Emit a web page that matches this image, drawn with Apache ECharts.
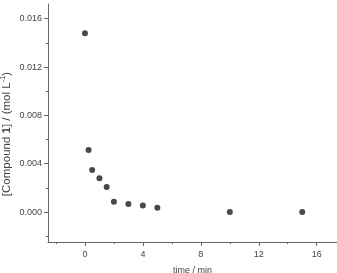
<!DOCTYPE html>
<html>
<head>
<meta charset="utf-8">
<script src="https://cdn.jsdelivr.net/npm/echarts@6/dist/echarts.min.js"></script>
<style>
    html, body { margin: 0; padding: 0; background: #fff; }
    #chart { width: 337px; height: 273px; }
</style>
</head>
<body>
<div id="chart"></div>
<script>
    // 数据
    var timeMin = [0, 0.25, 0.5, 1, 1.5, 2, 3, 4, 5, 10, 15];
    var conc = [0.0148, 0.00513, 0.00348, 0.00279, 0.00207, 0.00085, 0.00066, 0.00055, 0.00036, 0.0, 0.0];
    var xMajor = [0, 4, 8, 12, 16];
    var xMinor = [-2, 2, 6, 10, 14];
    var yMajor = [0, 0.004, 0.008, 0.012, 0.016];
    var yMinor = [-0.002, 0.002, 0.006, 0.010, 0.014];

    var points = timeMin.map(function (t, i) { return [t, conc[i]]; });

    var axisColor = '#666';
    var textColor = '#444';
    var font = 'Liberation Sans, Arial, sans-serif';

    var myChart = echarts.init(document.getElementById('chart'));
    var option = {
        animation: false,
        grid: {
            left: 48,
            top: 4,
            right: 0,
            bottom: 31,
            containLabel: false,
            outerBoundsMode: 'none'
        },
        xAxis: [{
            type: 'value',
            min: -2.55,
            max: 17.4,
            name: 'time / min',
            nameLocation: 'middle',
            nameGap: 24,
            nameMoveOverlap: false,
            nameTextStyle: { color: textColor, fontSize: 9, fontFamily: font, verticalAlign: 'top' },
            axisLine: { show: true, onZero: false, lineStyle: { color: axisColor, width: 1 } },
            axisTick: { show: true, customValues: xMajor, length: 4, lineStyle: { color: axisColor } },
            axisLabel: {
                customValues: xMajor,
                color: textColor, fontSize: 9, fontFamily: font, margin: 8
            },
            splitLine: { show: false }
        }, {
            type: 'value',
            position: 'bottom',
            min: -2.55,
            max: 17.4,
            axisLine: { show: false, onZero: false },
            axisTick: { show: true, customValues: xMinor, length: 2, lineStyle: { color: axisColor } },
            axisLabel: { show: false },
            splitLine: { show: false }
        }],
        yAxis: [{
            type: 'value',
            min: -0.00248,
            max: 0.01722,
            name: '[Compound {b|1}] / (mol L{sup|-1})',
            nameLocation: 'middle',
            nameRotate: 90,
            nameGap: 34,
            nameMoveOverlap: false,
            nameTextStyle: {
                color: textColor, fontSize: 11.5, fontFamily: font,
                padding: [0, 22, 0, 0],
                rich: {
                    b: { fontWeight: 'bold', fontSize: 11.5, color: textColor, fontFamily: font },
                    sup: { fontSize: 7.5, verticalAlign: 'bottom', color: textColor, fontFamily: font, padding: [0, 0, 7, 0] }
                }
            },
            axisLine: { show: true, onZero: false, lineStyle: { color: axisColor, width: 1 } },
            axisTick: { show: true, customValues: yMajor, length: 4, lineStyle: { color: axisColor } },
            axisLabel: {
                customValues: yMajor,
                color: textColor, fontSize: 9, fontFamily: font, margin: 6,
                formatter: function (v) { return v.toFixed(3); }
            },
            splitLine: { show: false }
        }, {
            type: 'value',
            position: 'left',
            min: -0.00248,
            max: 0.01722,
            axisLine: { show: false, onZero: false },
            axisTick: { show: true, customValues: yMinor, length: 2, lineStyle: { color: axisColor } },
            axisLabel: { show: false },
            splitLine: { show: false }
        }],
        series: [{
            type: 'scatter',
            data: points,
            symbol: 'circle',
            symbolSize: 6,
            itemStyle: { color: '#1a1a1a' }
        }]
    };
    myChart.setOption(option);
</script>
</body>
</html>
